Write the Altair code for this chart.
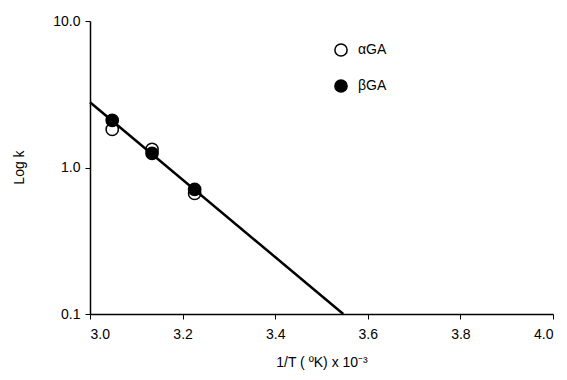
import altair as alt
import pandas as pd

# data
series = ["αGA", "βGA"]
x_vals = [3.048, 3.134, 3.226]
alpha_k = [1.82, 1.33, 0.665]
beta_k = [2.10, 1.25, 0.708]
fit_x = [3.0, 3.547]
fit_k = [2.79, 0.1]

pts = pd.DataFrame({
    "x": x_vals * 2,
    "k": alpha_k + beta_k,
    "s": [series[0]] * 3 + [series[1]] * 3,
})
fit = pd.DataFrame({"x": fit_x, "k": fit_k})

FONT = "Liberation Sans"

xs = alt.Scale(domain=[3.0, 4.0], nice=False, zero=False)
ys = alt.Scale(type="log", domain=[0.1, 10])

xax = alt.Axis(values=[3.0, 3.2, 3.4, 3.6, 3.8, 4.0], format=".1f", grid=False,
               title="1/T ( ºK) x 10⁻³", titlePadding=14, labelPadding=8,
               tickSize=5, labelFontSize=14, titleFontSize=14, titleFontWeight="normal")
yax = alt.Axis(values=[0.1, 1, 10], format=".1f", grid=False, title="Log k",
               titleX=-64, titleY=146, labelPadding=5, tickSize=5,
               labelFontSize=14, titleFontSize=14, titleFontWeight="normal")

line = alt.Chart(fit).mark_line(color="black", strokeWidth=2.5).encode(
    x=alt.X("x:Q", scale=xs, axis=xax),
    y=alt.Y("k:Q", scale=ys, axis=yax),
)

leg = alt.Legend(title=None, orient="none", legendX=244, legendY=22,
                 symbolSize=150, symbolStrokeWidth=1.5,
                 rowPadding=16, labelFontSize=14, labelOffset=10)

points = alt.Chart(pts).mark_point(size=150, strokeWidth=1.5, opacity=1).encode(
    x=alt.X("x:Q", scale=xs),
    y=alt.Y("k:Q", scale=ys),
    shape=alt.Shape("s:N", scale=alt.Scale(domain=series, range=["circle", "circle"]), legend=leg),
    fill=alt.Fill("s:N", scale=alt.Scale(domain=series, range=["transparent", "black"]), legend=leg),
    stroke=alt.value("black"),
    order=alt.Order("s:N"),
)

chart = alt.layer(line, points).properties(
    width=463, height=293,
    autosize=alt.AutoSizeParams(type="none"),
    padding={"left": 82, "top": 13, "right": 6, "bottom": 58},
).configure_view(stroke=None).configure_axis(
    domainColor="black", tickColor="black", labelColor="black", titleColor="black",
    labelFont=FONT, titleFont=FONT, domainWidth=1.5,
).configure_legend(labelFont=FONT, labelColor="black")

chart.save("out.html", embed_options={"renderer": "svg", "actions": False})
